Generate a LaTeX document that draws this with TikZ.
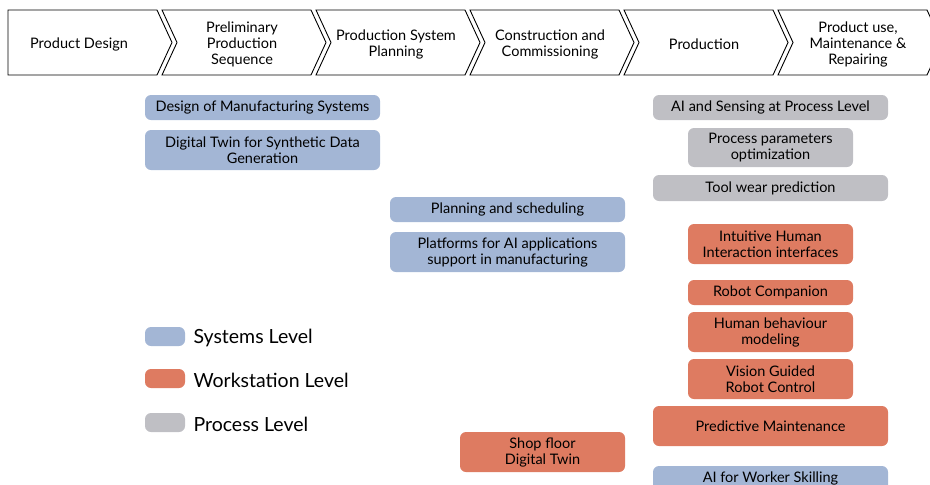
\documentclass[tikz,border=0pt]{standalone}
\usepackage{fontspec}
\setmainfont{Lato}
\usetikzlibrary{positioning}
\definecolor{sysblue}{RGB}{163,182,213}
\definecolor{wsorange}{RGB}{222,123,97}
\definecolor{procgray}{RGB}{191,191,196}
\begin{document}
\begin{tikzpicture}
    [x=1pt,y=-1pt,
     stage/.style={draw=black,line width=0.9pt,fill=white},
     stagetext/.style={align=center,font=\fontsize{14.5}{16}\selectfont},
     lvl/.style={rounded corners=6pt,align=center,inner sep=0pt,
       font=\fontsize{14.5}{16}\selectfont,minimum width=235pt,minimum height=25pt},
     narrow/.style={minimum width=165pt},
     tall/.style={minimum height=40pt},
     syslvl/.style={lvl,fill=sysblue},
     wslvl/.style={lvl,fill=wsorange},
     proclvl/.style={lvl,fill=procgray},
     swatch/.style={rounded corners=6pt,minimum width=40pt,minimum height=19pt,inner sep=0pt},
     legtext/.style={anchor=west,font=\fontsize{19.5}{21}\selectfont}]
    \useasboundingbox (0,0) rectangle (930,485);
    % stages
    \draw[stage] (8,10) -- (157,10) -- (172,42.5) -- (157,75) -- (8,75) -- cycle;
    \foreach \x in {162,316,470,624,778}
      \draw[stage] (\x,10) -- ++(149,0) -- ++(15,32.5) -- ++(-15,32.5) -- ++(-149,0) -- ++(15,-32.5) -- cycle;
    \node[stagetext] (pd) at (79,44) {Product Design};
    \node[stagetext] (pps) at (242,44) {Preliminary\\Production\\Sequence};
    \node[stagetext] (psp) at (396,44) {Production System\\Planning};
    \node[stagetext] (cc) at (550,44) {Construction and\\Commissioning};
    \node[stagetext] (prod) at (704,44) {Production};
    \node[stagetext] (pum) at (858,44) {Product use,\\Maintenance \&\\Repairing};
    % systems level
    \node[syslvl] (dms) at (262.5,107.5) {Design of Manufacturing Systems};
    \node[syslvl,tall] (dtsd) at (262.5,150) {Digital Twin for Synthetic Data\\Generation};
    \node[syslvl] (pas) at (507.5,209.5) {Planning and scheduling};
    \node[syslvl,tall] (pai) at (507.5,252) {Platforms for AI applications\\support in manufacturing};
    \node[syslvl] (aiws) at (770.5,478.5) {AI for Worker Skilling};
    % process level
    \node[proclvl] (aisp) at (770.5,107.5) {AI and Sensing at Process Level};
    \node[proclvl,narrow,minimum height=39pt] (ppo) at (770.5,147.5) {Process parameters\\optimization};
    \node[proclvl,minimum height=26pt] (twp) at (770.5,188) {Tool wear prediction};
    % workstation level
    \node[wslvl,narrow,tall] (ihi) at (770.5,244) {Intuitive Human\\Interaction interfaces};
    \node[wslvl,narrow] (rc) at (770.5,292.5) {Robot Companion};
    \node[wslvl,narrow,tall] (hbm) at (770.5,332) {Human behaviour\\modeling};
    \node[wslvl,narrow,tall] (vgrc) at (770.5,379) {Vision Guided\\Robot Control};
    \node[wslvl,tall] (pm) at (770.5,426) {Predictive Maintenance};
    \node[wslvl,narrow,tall] (sfdt) at (542.5,452) {Shop floor\\Digital Twin};
    % legend
    \node[swatch,fill=sysblue] (ksys) at (165,336.5) {};
    \node[swatch,fill=wsorange] (kws) at (165,378.5) {};
    \node[swatch,fill=procgray] (kproc) at (165,422.5) {};
    \node[legtext] (lsys) at (190,338) {Systems Level};
    \node[legtext] (lws) at (190,380.5) {Workstation Level};
    \node[legtext] (lproc) at (190,424) {Process Level};
  \end{tikzpicture}
\end{document}
